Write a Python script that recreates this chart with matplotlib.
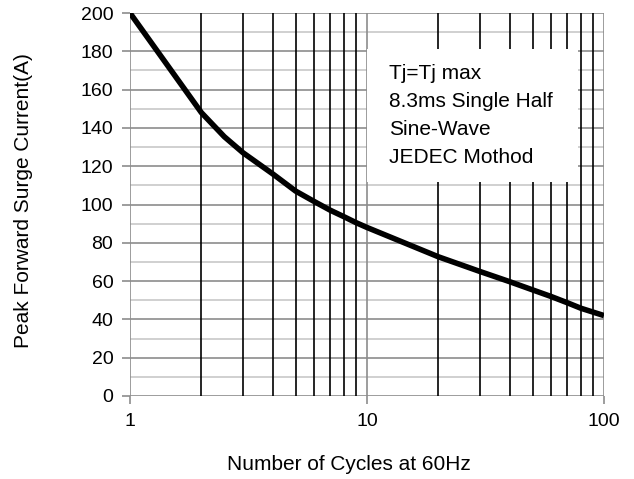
import matplotlib
matplotlib.use("Agg")
import matplotlib.pyplot as plt
from matplotlib.patches import Rectangle
from matplotlib.ticker import FixedLocator, NullFormatter

plt.rcParams['font.family'] = ['Liberation Sans', 'DejaVu Sans']

cycles = [1, 2, 2.5, 3, 4, 5, 6, 7, 8, 9, 10, 20, 30, 40, 50, 60, 70, 80, 100]
current = [200, 148, 135.4, 127, 116, 107, 101.5, 97, 93.6, 90.5, 88, 72.7, 65, 59.7, 55.4, 51.9, 48.7, 45.8, 42]
x_ticks = [1, 10, 100]
x_tick_labels = ["1", "10", "100"]
y_ticks = list(range(0, 201, 20))
note_lines = ["Tj=Tj max", "8.3ms Single Half", "Sine-Wave", "JEDEC Mothod"]

W, H = 634, 479
fig = plt.figure(figsize=(W/100, H/100), dpi=100)
ax = fig.add_axes([130/W, 1-396/H, (604-130)/W, (396-13)/H])
ax.set_xscale('log')
ax.set_xlim(1, 100)
ax.set_ylim(0, 200)

# grid
for y in range(10, 200, 20):
    ax.axhline(y, color='#c8c8c8', lw=1.2, zorder=1)
for y in y_ticks:
    ax.axhline(y, color='#8c8c8c', lw=1.2, zorder=1)
for dec in [1, 10]:
    for m in range(2, 10):
        ax.axvline(dec*m, color='black', lw=1.2, zorder=1)
for x in x_ticks:
    ax.axvline(x, color='#8c8c8c', lw=1.2, zorder=1)

ax.plot(cycles, current, color='black', lw=4, zorder=3, solid_capstyle='butt', solid_joinstyle='round')

ax.xaxis.set_major_locator(FixedLocator(x_ticks))
ax.set_xticklabels(x_tick_labels)
ax.xaxis.set_minor_locator(FixedLocator([]))
ax.xaxis.set_minor_formatter(NullFormatter())
ax.set_yticks(y_ticks)
ax.tick_params(axis='both', labelsize=14, color='#8c8c8c', length=6, width=1.2, pad=6)
for s in ax.spines.values():
    s.set_visible(False)

fig.text(349/W, 1-464/H, "Number of Cycles at 60Hz", fontsize=15, ha='center', va='center')
fig.text(24/W, 1-201/H, "Peak Forward Surge Current(A)", fontsize=15, ha='center', va='center',
         rotation=90)

# note box
box = Rectangle((367/W, 1-182/H), (578-367)/W, (182-49)/H, transform=fig.transFigure,
                facecolor='white', edgecolor='none', zorder=4)
ax.add_patch(box)
for line, b in zip(note_lines, [79, 107, 135, 163]):
    ax.text(389/W, 1-b/H, line, transform=fig.transFigure, fontsize=15,
            va='baseline', ha='left', zorder=5)

fig.savefig("out.png", dpi=100)
